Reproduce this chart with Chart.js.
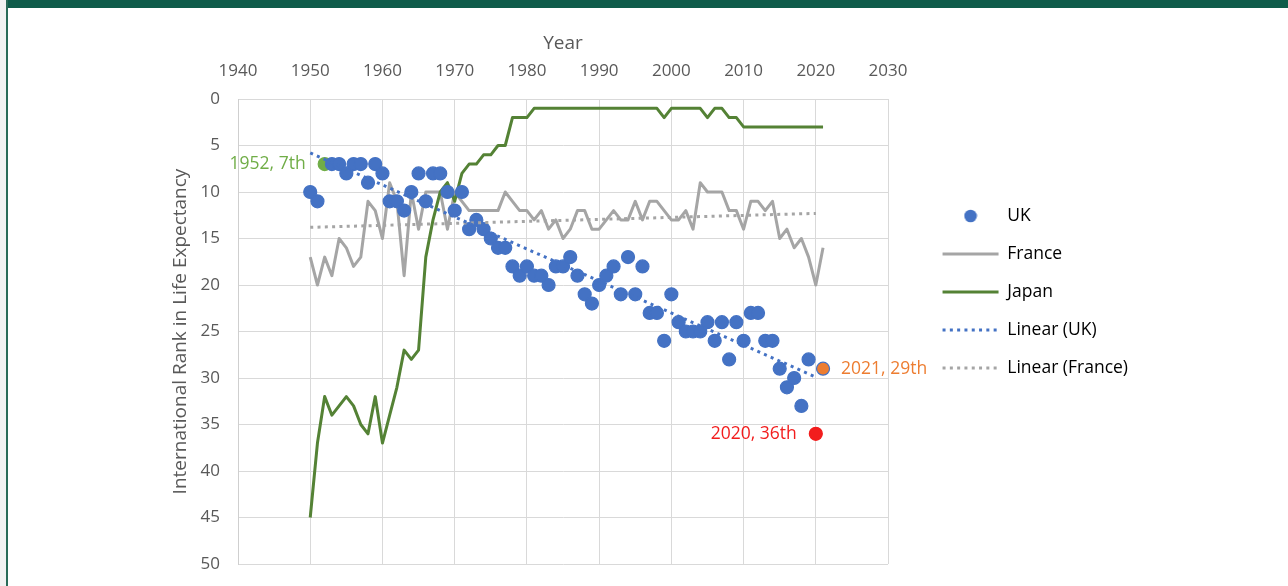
<!DOCTYPE html>
<html>
<head>
<meta charset="utf-8">
<script src="https://cdn.jsdelivr.net/npm/chart.js@4.4.1/dist/chart.umd.min.js"></script>
<style>
html,body{margin:0;padding:0;background:#fff;}
#wrap{position:relative;width:1288px;height:586px;overflow:hidden;background:#fff;}
#edge0{position:absolute;left:0;top:0;width:6px;height:586px;background:#f2f2f2;}
#band{position:absolute;left:6px;top:0;width:1282px;height:8px;background:#0f5c4a;z-index:2;}
#edge{position:absolute;left:6px;top:0;width:2px;height:586px;background:#2a6b58;z-index:2;}
canvas{position:absolute;left:0;top:0;}
</style>
</head>
<body>
<div id="wrap">
  <div id="edge0"></div>
  <canvas id="c" width="1288" height="586"></canvas>
  <div id="band"></div>
  <div id="edge"></div>
</div>
<script>
// ---- data ----
const years = [1950,1951,1952,1953,1954,1955,1956,1957,1958,1959,
  1960,1961,1962,1963,1964,1965,1966,1967,1968,1969,
  1970,1971,1972,1973,1974,1975,1976,1977,1978,1979,
  1980,1981,1982,1983,1984,1985,1986,1987,1988,1989,
  1990,1991,1992,1993,1994,1995,1996,1997,1998,1999,
  2000,2001,2002,2003,2004,2005,2006,2007,2008,2009,
  2010,2011,2012,2013,2014,2015,2016,2017,2018,2019,
  2020,2021];
const ukRank = [10,11,7,7,7,8,7,7,9,7,
  8,11,11,12,10,8,11,8,8,10,
  12,10,14,13,14,15,16,16,18,19,
  18,19,19,20,18,18,17,19,21,22,
  20,19,18,21,17,21,18,23,23,26,
  21,24,25,25,25,24,26,24,28,24,
  26,23,23,26,26,29,31,30,33,28,
  36,29];
const franceRank = [17,20,17,19,15,16,18,17,11,12,
  15,9,11,19,10,14,10,10,10,14,
  10,11,12,12,12,12,12,10,11,12,
  12,13,12,14,13,15,14,12,12,14,
  14,13,12,13,13,11,13,11,11,12,
  13,13,12,14,9,10,10,10,12,12,
  14,11,11,12,11,15,14,16,15,17,
  20,16];
const japanRank = [45,37,32,34,33,32,33,35,36,32,
  37,34,31,27,28,27,17,13,10,9,
  11,8,7,7,6,6,5,5,2,2,
  2,1,1,1,1,1,1,1,1,1,
  1,1,1,1,1,1,1,1,1,2,
  1,1,1,1,1,2,1,1,2,2,
  3,3,3,3,3,3,3,3,3,3,
  3,3];
const ukTrendYears = [1950, 2020];
const ukTrendRank = [5.8, 29.9];
const franceTrendYears = [1950, 2020];
const franceTrendRank = [13.8, 12.3];
const xTickLabels = [1940,1950,1960,1970,1980,1990,2000,2010,2020,2030];
const yTickLabels = [0,5,10,15,20,25,30,35,40,45,50];
const legendLabels = ['UK','France','Japan','Linear (UK)','Linear (France)'];
const calloutYears = [1952, 2021, 2020];
const calloutTexts = ['1952, 7th', '2021, 29th', '2020, 36th'];

// ---- styles ----
const C_UK = '#4472c4', C_FR = '#a5a5a5', C_JP = '#548235';
const highlight = {1952: '#70ad47', 2020: '#f21d1d', 2021: '#ed7d31'};
const calloutColor = ['#70ad47', '#ed7d31', '#f21d1d'];
const calloutSide = ['left', 'right', 'left'];
const TXT = '#595959';
Chart.defaults.font.family = "'Open Sans', sans-serif";
Chart.defaults.color = TXT;

const pts = (xs, ys) => xs.map((v, i) => ({x: v, y: ys[i]}));
const ukFill = years.map(y => highlight[y] || C_UK);
const ukBorder = years.map(y => (y === 2021 ? C_UK : (highlight[y] || C_UK)));

const dot = document.createElement('canvas');
dot.width = 14; dot.height = 14;
(function(){ const g = dot.getContext('2d'); g.fillStyle = C_UK; g.beginPath(); g.arc(7,7,6.3,0,Math.PI*2); g.fill(); })();

const legendItems = [
  {text: legendLabels[0], pointStyle: dot, fillStyle: C_UK, strokeStyle: C_UK, lineWidth: 0, hidden: false, datasetIndex: 0},
  {text: legendLabels[1], pointStyle: 'line', fillStyle: C_FR, strokeStyle: C_FR, lineWidth: 3, hidden: false, datasetIndex: 1},
  {text: legendLabels[2], pointStyle: 'line', fillStyle: C_JP, strokeStyle: C_JP, lineWidth: 3, hidden: false, datasetIndex: 2},
  {text: legendLabels[3], pointStyle: 'line', fillStyle: C_UK, strokeStyle: C_UK, lineWidth: 3, lineDash: [3, 4.3], hidden: false, datasetIndex: 3},
  {text: legendLabels[4], pointStyle: 'line', fillStyle: C_FR, strokeStyle: C_FR, lineWidth: 3, lineDash: [3, 4.3], hidden: false, datasetIndex: 4}
];

const calloutPlugin = {
  id: 'callouts',
  afterDatasetsDraw(chart) {
    const {ctx, scales: {x, y}} = chart;
    ctx.save();
    ctx.font = "17.5px 'Open Sans', sans-serif";
    ctx.textBaseline = 'middle';
    calloutYears.forEach((yr, k) => {
      const i = years.indexOf(yr);
      const px = x.getPixelForValue(yr), py = y.getPixelForValue(ukRank[i]);
      ctx.fillStyle = calloutColor[k];
      if (calloutSide[k] === 'right') { ctx.textAlign = 'left'; ctx.fillText(calloutTexts[k], px + 18, py); }
      else { ctx.textAlign = 'right'; ctx.fillText(calloutTexts[k], px - 19, py); }
    });
    ctx.restore();
  }
};

new Chart(document.getElementById('c'), {
  type: 'scatter',
  data: {
    datasets: [
      {label: 'UK', data: pts(years, ukRank), showLine: false, pointRadius: 6.5, pointHoverRadius: 6.5,
       pointBackgroundColor: ukFill, pointBorderColor: ukBorder, pointBorderWidth: 1.2, order: 2},
      {label: 'France', data: pts(years, franceRank), showLine: true, borderColor: C_FR, borderWidth: 3,
       pointRadius: 0, tension: 0, fill: false, order: 4, borderJoinStyle: 'round'},
      {label: 'Japan', data: pts(years, japanRank), showLine: true, borderColor: C_JP, borderWidth: 3,
       pointRadius: 0, tension: 0, fill: false, order: 3, borderJoinStyle: 'round'},
      {label: 'Linear (UK)', data: pts(ukTrendYears, ukTrendRank), showLine: true, borderColor: C_UK, borderWidth: 3,
       borderDash: [3, 4.3], pointRadius: 0, fill: false, order: 1},
      {label: 'Linear (France)', data: pts(franceTrendYears, franceTrendRank), showLine: true, borderColor: C_FR, borderWidth: 3,
       borderDash: [3, 4.3], pointRadius: 0, fill: false, order: 1}
    ]
  },
  options: {
    responsive: false,
    animation: false,
    events: [],
    layout: {padding: {left: 160, top: 20, bottom: 22, right: 150}},
    scales: {
      x: {
        type: 'linear', position: 'top', min: 1940, max: 2030,
        afterBuildTicks: s => { s.ticks = xTickLabels.map(v => ({value: v})); },
        afterFit: s => { s.height = 79; },
        ticks: {callback: v => String(v), padding: 18, color: TXT, font: {size: 17}, maxRotation: 0, autoSkip: false},
        grid: {color: '#d9d9d9', lineWidth: 1, drawTicks: false},
        border: {display: true, color: '#d9d9d9'},
        title: {display: true, text: 'Year', color: TXT, font: {size: 19}, padding: {top: 12, bottom: 0}}
      },
      y: {
        type: 'linear', position: 'left', reverse: true, min: 0, max: 50,
        afterBuildTicks: s => { s.ticks = yTickLabels.map(v => ({value: v})); },
        afterFit: s => { s.width = 78; s.paddingTop = 0; s.paddingBottom = 0; },
        ticks: {padding: 18, color: TXT, font: {size: 17}, autoSkip: false},
        grid: {color: '#d9d9d9', lineWidth: 1, drawTicks: false},
        border: {display: true, color: '#cfcfcf'},
        title: {display: true, text: 'International Rank in Life Expectancy', color: TXT, font: {size: 19}, padding: {top: 9.6, bottom: 0}}
      },
      gap: {
        type: 'linear', position: 'right', display: true,
        grid: {display: false}, border: {display: false}, ticks: {display: false},
        afterFit: s => { s.width = 34; s.paddingTop = 0; s.paddingBottom = 0; }
      }
    },
    plugins: {
      tooltip: {enabled: false},
      legend: {
        position: 'right', align: 'center', maxWidth: 320,
        labels: {usePointStyle: true, pointStyleWidth: 56, padding: 20.5, color: TXT, font: {size: 17.5},
                 generateLabels: () => legendItems}
      }
    }
  },
  plugins: [calloutPlugin]
});
</script>
</body>
</html>
